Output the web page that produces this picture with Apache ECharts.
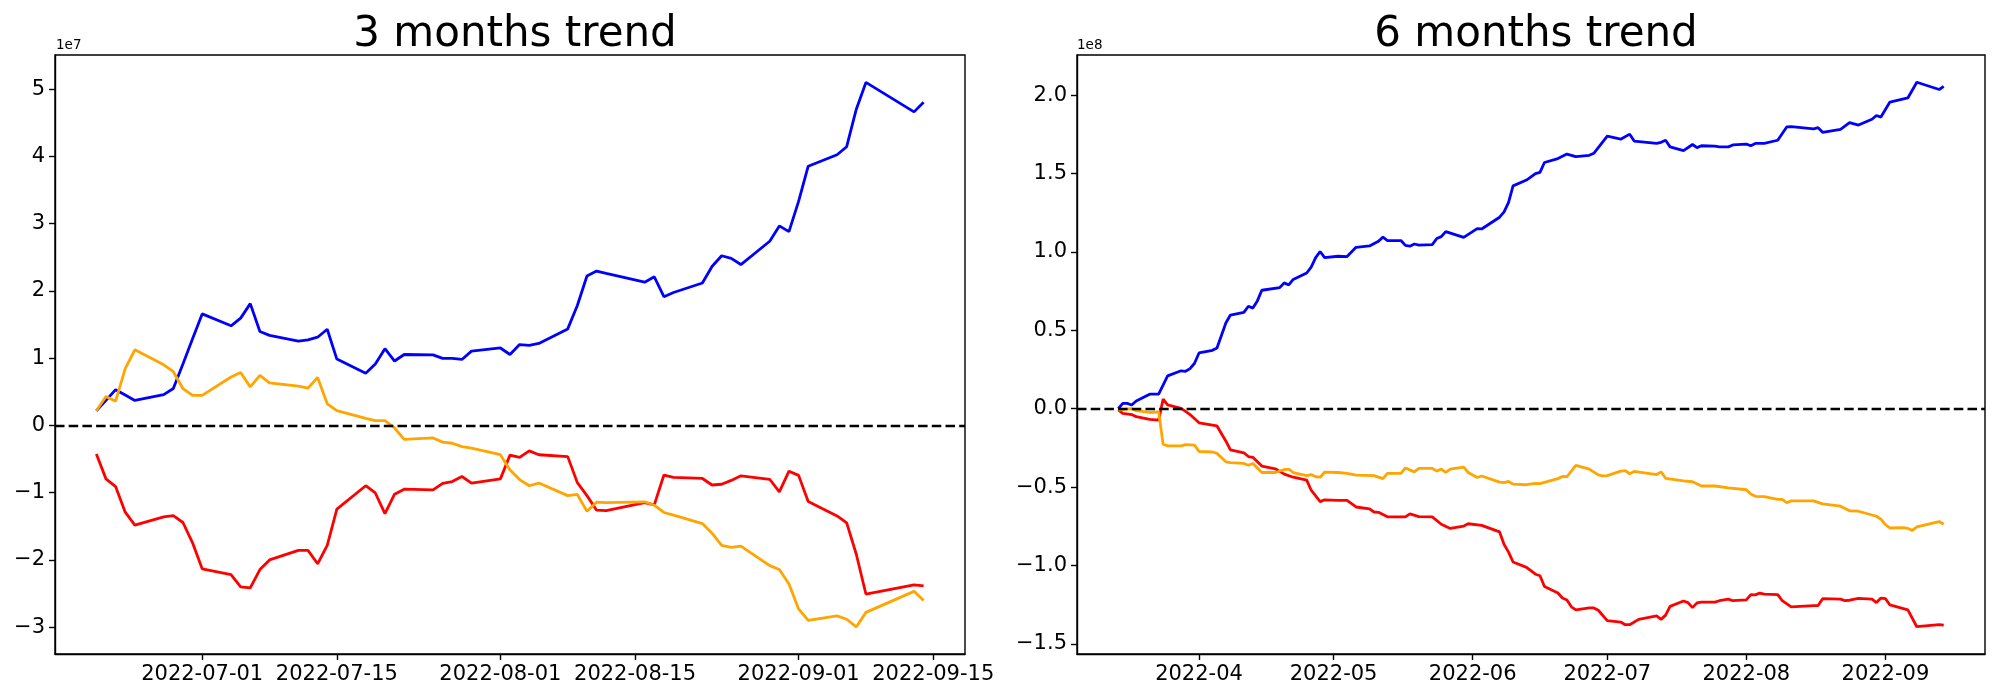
<!DOCTYPE html>
<html>
<head>
<meta charset="utf-8">
<script src="https://cdn.jsdelivr.net/npm/echarts@6/dist/echarts.min.js"></script>
<style>
html,body{margin:0;padding:0;background:#fff;}
#chart{width:2000px;height:700px;}
</style>
</head>
<body>
<div id="chart"></div>
<script>
// ---------- 3 months trend (values in units of 1e7) ----------
const dates3 = ['2022-06-20','2022-06-21','2022-06-22','2022-06-23','2022-06-24','2022-06-27','2022-06-28','2022-06-29','2022-06-30',
'2022-07-01','2022-07-04','2022-07-05','2022-07-06','2022-07-07','2022-07-08','2022-07-11','2022-07-12','2022-07-13','2022-07-14','2022-07-15',
'2022-07-18','2022-07-19','2022-07-20','2022-07-21','2022-07-22','2022-07-25','2022-07-26','2022-07-27','2022-07-28','2022-07-29',
'2022-08-01','2022-08-02','2022-08-03','2022-08-04','2022-08-05','2022-08-08','2022-08-09','2022-08-10','2022-08-11','2022-08-12',
'2022-08-16','2022-08-17','2022-08-18','2022-08-19','2022-08-22','2022-08-23','2022-08-24','2022-08-25','2022-08-26',
'2022-08-29','2022-08-30','2022-08-31','2022-09-01','2022-09-02','2022-09-05','2022-09-06','2022-09-07','2022-09-08','2022-09-13','2022-09-14'];
const blue3 = [0.219,0.372,0.532,0.452,0.372, 0.458,0.549,0.913,1.289, 1.659, 1.482,1.596,1.812,1.397,1.340, 1.255,1.272,1.312,1.431,0.987,
0.776,0.913,1.141,0.958,1.055, 1.050,0.998,0.998,0.981,1.106, 1.152,1.055,1.203,1.192,1.220, 1.436,1.784,2.222,2.296,2.262,
2.131,2.211,1.915,1.977, 2.119,2.364,2.524,2.484,2.393, 2.740,2.968,2.882, 3.332,3.856, 4.026,4.146,4.704,5.102, 4.664,4.806];
const red3 = [-0.425,-0.795,-0.909,-1.290,-1.484, -1.359,-1.342,-1.444,-1.746, -2.133, -2.218,-2.400,-2.417,-2.144,-2.001, -1.859,-1.859,-2.058,-1.785,-1.244,
-0.897,-1.005,-1.313,-1.022,-0.948, -0.960,-0.863,-0.835,-0.760,-0.857, -0.795,-0.442,-0.476,-0.379,-0.436, -0.464,-0.851,-1.044,-1.261,-1.267,
-1.147,-1.182,-0.738,-0.772, -0.789,-0.886,-0.875,-0.818,-0.750, -0.801,-0.989,-0.681, -0.743,-1.130, -1.346,-1.449,-1.916,-2.508, -2.371,-2.388];
const orange3 = [0.219,0.429,0.361,0.845,1.124, 0.902,0.799,0.549,0.447, 0.447, 0.720,0.788,0.572,0.743,0.634, 0.583,0.554,0.714,0.321,0.219,
0.105,0.071,0.071,-0.038,-0.208, -0.186,-0.248,-0.265,-0.316,-0.339, -0.436,-0.663,-0.806,-0.897,-0.857, -1.044,-1.027,-1.278,-1.142,-1.147,
-1.136,-1.187,-1.295,-1.335, -1.460,-1.603,-1.785,-1.813,-1.796, -2.086,-2.143,-2.359, -2.729,-2.900, -2.832,-2.883,-2.997,-2.781, -2.468,-2.605];
const yTicks3 = [-3,-2,-1,0,1,2,3,4,5];
const xTicks3 = ['2022-07-01','2022-07-15','2022-08-01','2022-08-15','2022-09-01','2022-09-15'];

// ---------- 6 months trend (values in units of 1e8) ----------
const blue6Dates = ['03-14','03-15','03-16','03-17','03-18','03-21','03-23','03-25','03-28','03-29','03-30','03-31','04-01','04-04','04-05','04-07','04-08',
'04-11','04-12','04-13','04-14','04-15','04-19','04-20','04-21','04-22','04-25','04-26','04-27','04-28','04-29','05-02','05-04','05-06','05-09','05-11',
'05-12','05-13','05-16','05-17','05-18','05-19','05-20','05-23','05-24','05-25','05-26','05-30','06-02','06-03','06-07','06-08','06-09','06-10','06-13',
'06-15','06-16','06-17','06-20','06-22','06-24','06-27','06-28','07-01','07-04','07-06','07-07','07-12','07-13','07-14','07-15','07-18','07-20','07-21',
'07-22','07-25','07-26','07-28','07-29','08-01','08-02','08-03','08-05','08-08','08-10','08-11','08-16','08-17','08-18','08-22','08-24','08-26','08-29',
'08-30','08-31','09-02','09-06','09-08','09-13','09-14'];
const blue6 = [0,0.034,0.034,0.024,0.049,0.093,0.093,0.210,0.242,0.239,0.256,0.290,0.356,0.373,0.388,0.549,0.598,
0.615,0.654,0.642,0.688,0.756,0.773,0.803,0.790,0.825,0.866,0.903,0.964,1.003,0.964,0.973,0.971,1.030,1.039,1.069,
1.095,1.073,1.073,1.042,1.037,1.051,1.044,1.047,1.086,1.098,1.130,1.093,1.149,1.147,1.222,1.256,1.317,1.422,1.459,
1.500,1.508,1.571,1.596,1.625,1.608,1.617,1.630,1.739,1.720,1.752,1.708,1.693,1.700,1.713,1.671,1.647,1.686,1.666,
1.678,1.676,1.671,1.671,1.683,1.688,1.678,1.693,1.693,1.713,1.798,1.800,1.786,1.793,1.764,1.783,1.825,1.810,1.847,
1.871,1.861,1.957,1.983,2.083,2.037,2.057];
const red6Dates = ['03-14','03-15','03-17','03-18','03-21','03-23','03-24','03-25','03-28','03-29','03-30','04-01','04-05','04-07','04-08','04-11','04-12',
'04-13','04-15','04-18','04-20','04-22','04-25','04-26','04-28','04-29','05-02','05-04','05-06','05-09','05-10','05-11','05-13','05-17','05-18','05-20',
'05-23','05-25','05-27','05-30','05-31','06-03','06-07','06-08','06-09','06-10','06-13','06-15','06-16','06-17','06-20','06-21','06-22','06-23','06-24',
'06-27','06-28','06-29','07-01','07-04','07-05','07-06','07-08','07-12','07-13','07-14','07-15','07-18','07-19','07-20','07-21','07-22','07-25','07-26',
'07-28','07-29','08-01','08-02','08-03','08-04','08-05','08-08','08-09','08-11','08-16','08-17','08-18','08-22','08-23','08-24','08-26','08-29','08-30',
'08-31','09-01','09-02','09-06','09-08','09-13','09-14'];
const red6 = [-0.007,-0.029,-0.037,-0.051,-0.068,-0.073,0.061,0.024,0.002,-0.017,-0.037,-0.090,-0.110,-0.207,-0.263,-0.281,-0.305,
-0.310,-0.366,-0.383,-0.417,-0.437,-0.456,-0.520,-0.593,-0.581,-0.585,-0.585,-0.627,-0.639,-0.659,-0.661,-0.690,-0.690,-0.671,-0.688,
-0.690,-0.737,-0.764,-0.749,-0.734,-0.744,-0.786,-0.866,-0.915,-0.978,-1.012,-1.056,-1.066,-1.134,-1.176,-1.208,-1.220,-1.264,-1.283,
-1.271,-1.271,-1.286,-1.352,-1.361,-1.378,-1.378,-1.344,-1.322,-1.344,-1.317,-1.261,-1.227,-1.237,-1.269,-1.239,-1.234,-1.234,-1.225,
-1.215,-1.225,-1.220,-1.186,-1.188,-1.176,-1.183,-1.186,-1.225,-1.264,-1.256,-1.256,-1.212,-1.215,-1.225,-1.222,-1.210,-1.215,-1.237,
-1.208,-1.212,-1.252,-1.283,-1.391,-1.378,-1.381];
const orange6Dates = ['03-14','03-17','03-18','03-21','03-23','03-24','03-25','03-28','03-29','03-31','04-01','04-04','04-05','04-07','04-08','04-11','04-12',
'04-13','04-15','04-18','04-20','04-21','04-22','04-25','04-26','04-27','04-28','04-29','05-02','05-04','05-06','05-10','05-12','05-13','05-16','05-17',
'05-19','05-20','05-23','05-24','05-25','05-26','05-27','05-30','05-31','06-02','06-03','06-07','06-08','06-09','06-10','06-13','06-15','06-16','06-20',
'06-21','06-22','06-24','06-27','06-29','06-30','07-01','07-04','07-05','07-06','07-07','07-12','07-13','07-14','07-18','07-20','07-22','07-25','07-28',
'08-01','08-02','08-03','08-05','08-08','08-09','08-10','08-11','08-16','08-18','08-22','08-24','08-26','08-29','08-30','08-31','09-01','09-02','09-05',
'09-06','09-07','09-08','09-13','09-14'];
const orange6 = [-0.007,0,-0.012,-0.024,-0.020,-0.227,-0.237,-0.237,-0.229,-0.232,-0.273,-0.276,-0.285,-0.339,-0.344,-0.349,-0.361,
-0.349,-0.407,-0.407,-0.388,-0.385,-0.407,-0.427,-0.420,-0.434,-0.437,-0.405,-0.407,-0.412,-0.424,-0.427,-0.446,-0.412,-0.412,-0.378,
-0.403,-0.381,-0.381,-0.398,-0.385,-0.407,-0.385,-0.373,-0.407,-0.439,-0.429,-0.468,-0.471,-0.464,-0.481,-0.485,-0.476,-0.478,-0.446,
-0.432,-0.434,-0.361,-0.385,-0.422,-0.429,-0.427,-0.398,-0.395,-0.415,-0.400,-0.420,-0.403,-0.444,-0.461,-0.466,-0.493,-0.493,-0.505,
-0.517,-0.544,-0.559,-0.561,-0.578,-0.578,-0.600,-0.588,-0.588,-0.607,-0.622,-0.651,-0.654,-0.678,-0.686,-0.705,-0.739,-0.761,-0.759,
-0.764,-0.776,-0.754,-0.720,-0.737];
const yTicks6 = [-1.5,-1.0,-0.5,0.0,0.5,1.0,1.5,2.0];
const xTicks6 = ['2022-04-01','2022-05-01','2022-06-01','2022-07-01','2022-08-01','2022-09-01'];
const YEAR = '2022-';

// ---------- helpers ----------
const DAY = 86400000;
function ts(s){ const p = s.split('-').map(Number); return new Date(p[0], p[1]-1, p[2]).getTime(); }
function pairs(dates, vals, prefix){ return dates.map((d,i)=>[ts((prefix||'')+d), vals[i]]); }
function minus(s){ return s.replace('-', '\u2212'); }
function pad(n){ return (n<10?'0':'')+n; }

const FONT = 'DejaVu Sans';
const min3 = ts(dates3[0]) - 4.3*DAY, max3 = ts(dates3[dates3.length-1]) + 4.3*DAY;
const min6 = ts(YEAR+'03-14') - 9.2*DAY, max6 = ts(YEAR+'09-14') + 9.2*DAY;

function xAxis(idx, mn, mx, ticks, fmt){
  return {
    type:'value', gridIndex: idx, min: mn, max: mx, scale:true,
    axisLine:{show:true, onZero:false, lineStyle:{color:'#000', width:1.4}},
    axisTick:{show:true, inside:false, length:6, lineStyle:{color:'#000', width:1.4}, customValues: ticks.map(ts)},
    axisLabel:{show:true, margin:10, fontFamily:FONT, fontSize:21, color:'#000', customValues: ticks.map(ts),
      formatter: v => { const d = new Date(Number(v)); return fmt(d); }},
    splitLine:{show:false}, minorTick:{show:false}
  };
}
function yAxis(idx, mn, mx, ticks, dec){
  return {
    type:'value', gridIndex: idx, min: mn, max: mx,
    axisLine:{show:true, lineStyle:{color:'#000', width:1.4}},
    axisTick:{show:true, inside:false, length:6, lineStyle:{color:'#000', width:1.4}, customValues: ticks},
    axisLabel:{show:true, margin:10, fontFamily:FONT, fontSize:21, color:'#000', customValues: ticks,
      formatter: v => minus(Number(v).toFixed(dec))},
    splitLine:{show:false}
  };
}
function line(name, data, color, xi, z){
  return {name, type:'line', xAxisIndex:xi, yAxisIndex:xi, data, showSymbol:false, symbol:'none',
    lineStyle:{color, width:2.8}, itemStyle:{color}, z, animation:false};
}
const zeroLine = {silent:true, symbol:['none','none'], label:{show:false},
  lineStyle:{type:[9.5,4.2], color:'#000', width:2.4}, data:[{yAxis:0}], animation:false};

const option = {
  animation:false,
  backgroundColor:'#fff',
  title:[
    {text:'3 months trend', left:510, top:9, textAlign:'center', textStyle:{fontFamily:FONT, fontSize:42, fontWeight:'normal', color:'#000'}},
    {text:'6 months trend', left:1531, top:9, textAlign:'center', textStyle:{fontFamily:FONT, fontSize:42, fontWeight:'normal', color:'#000'}}
  ],
  graphic:[
    {type:'text', left:56, top:38, style:{text:'1e7', font:'13.5px "DejaVu Sans"', fill:'#000'}},
    {type:'text', left:1077, top:38, style:{text:'1e8', font:'13.5px "DejaVu Sans"', fill:'#000'}}
  ],
  grid:[
    {left:55, top:55, width:910, height:599, show:true, borderColor:'#000', borderWidth:1.4, backgroundColor:'transparent'},
    {left:1077, top:55, width:908, height:599, show:true, borderColor:'#000', borderWidth:1.4, backgroundColor:'transparent'}
  ],
  xAxis:[
    xAxis(0, min3, max3, xTicks3, d => d.getFullYear()+'-'+pad(d.getMonth()+1)+'-'+pad(d.getDate())),
    xAxis(1, min6, max6, xTicks6, d => d.getFullYear()+'-'+pad(d.getMonth()+1))
  ],
  yAxis:[
    yAxis(0, -3.40, 5.51, yTicks3, 0),
    yAxis(1, -1.565, 2.257, yTicks6, 1)
  ],
  series:[
    Object.assign(line('blue3', pairs(dates3, blue3), '#0000ff', 0, 2), {markLine: zeroLine}),
    line('red3', pairs(dates3, red3), '#ff0000', 0, 3),
    line('orange3', pairs(dates3, orange3), '#ffa500', 0, 4),
    Object.assign(line('blue6', pairs(blue6Dates, blue6, YEAR), '#0000ff', 1, 2), {markLine: zeroLine}),
    line('red6', pairs(red6Dates, red6, YEAR), '#ff0000', 1, 3),
    line('orange6', pairs(orange6Dates, orange6, YEAR), '#ffa500', 1, 4)
  ]
};
const chart = echarts.init(document.getElementById('chart'), null, {renderer:'canvas'});
chart.setOption(option);
</script>
</body>
</html>
